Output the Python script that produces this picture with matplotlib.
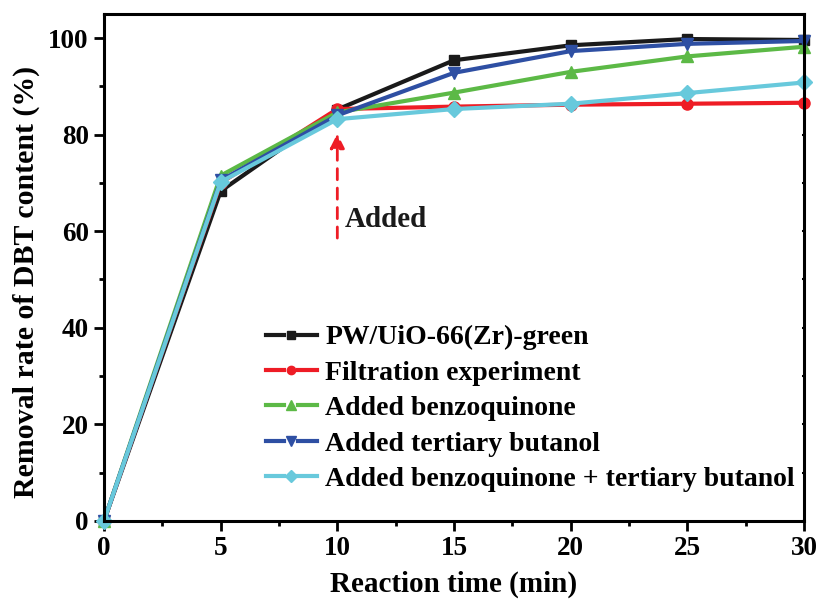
import matplotlib.pyplot as plt
from matplotlib.ticker import MultipleLocator
from matplotlib.legend_handler import HandlerLine2D
from matplotlib.lines import Line2D

plt.rcParams['font.family'] = ['Liberation Serif', 'DejaVu Serif']
plt.rcParams['font.weight'] = 'bold'

time_min = [0, 5, 10, 15, 20, 25, 30]

pw_green = [0, 68.3, 85.2, 95.4, 98.5, 99.8, 99.6]
filtration = [0, 70.0, 85.3, 85.8, 86.2, 86.4, 86.6]
benzoquinone = [0, 71.5, 84.6, 88.7, 93.0, 96.2, 98.2]
tert_butanol = [0, 70.5, 84.0, 92.8, 97.3, 98.8, 99.4]
bq_tba = [0, 70.2, 83.2, 85.3, 86.4, 88.6, 90.8]

labels = ['PW/UiO-66(Zr)-green', 'Filtration experiment', 'Added benzoquinone',
          'Added tertiary butanol', 'Added benzoquinone + tertiary butanol']
colors = ['#1a1a1a', '#ee1c25', '#5cb946', '#2e4fa3', '#68c9dc']
markers = ['s', 'o', '^', 'v', 'D']
sizes = [7, 8, 9, 9, 8]


class GapHandler(HandlerLine2D):
    """Origin style legend entry: line - marker - line, with small gaps"""

    def create_artists(self, legend, orig_handle, xdescent, ydescent,
                       width, height, fontsize, trans):
        y = height / 2 - ydescent
        x0 = -xdescent
        gap = width * 0.36
        left = Line2D([x0, x0 + gap], [y, y])
        right = Line2D([x0 + width - gap, x0 + width], [y, y])
        for ln in (left, right):
            ln.set_color(orig_handle.get_color())
            ln.set_linewidth(orig_handle.get_linewidth())
            ln.set_transform(trans)
        mk = Line2D([x0 + width / 2], [y], linestyle='none',
                    marker=orig_handle.get_marker(),
                    markersize=orig_handle.get_markersize() * 0.75,
                    color=orig_handle.get_color())
        mk.set_transform(trans)
        return [left, right, mk]


fig = plt.figure(figsize=(8.22, 6.05), dpi=100)
ax = fig.add_axes([0.1265, 0.139, 0.8516, 0.838])

series = [pw_green, filtration, benzoquinone, tert_butanol, bq_tba]
handles = []
for ys, lab, c, m, s in zip(series, labels, colors, markers, sizes):
    ln, = ax.plot(time_min, ys, color=c, marker=m, markersize=s, lw=3,
                  label=lab, clip_on=False)
    handles.append(ln)

# arrow showing when scavengers were added
ax.annotate('', xy=(10, 80.8), xytext=(10, 58),
            arrowprops=dict(arrowstyle='-|>', color='#ee1c25', lw=2,
                            linestyle=(0, (4, 3)), mutation_scale=22))
ax.text(10.3, 62.4, 'Added', fontsize=21, fontweight='bold', va='center',
        color='#1a1a1a')

ax.set_xlim(0, 30)
ax.set_ylim(0, 105)
ax.xaxis.set_major_locator(MultipleLocator(5))
ax.xaxis.set_minor_locator(MultipleLocator(2.5))
ax.yaxis.set_major_locator(MultipleLocator(20))
ax.yaxis.set_minor_locator(MultipleLocator(10))
ax.tick_params(which='major', direction='out', length=7, width=2, labelsize=19.5,
               pad=4)
ax.tick_params(which='minor', direction='out', length=3.5, width=2)
for sp in ax.spines.values():
    sp.set_linewidth(2.2)

sec_x = ax.secondary_xaxis('top')
sec_x.xaxis.set_major_locator(MultipleLocator(5))
sec_x.xaxis.set_minor_locator(MultipleLocator(2.5))
sec_x.tick_params(which='both', direction='in', labeltop=False, width=1.5,
                  length=1.5)
sec_y = ax.secondary_yaxis('right')
sec_y.yaxis.set_major_locator(MultipleLocator(20))
sec_y.yaxis.set_minor_locator(MultipleLocator(10))
sec_y.tick_params(which='both', direction='in', labelright=False, width=1.5,
                  length=1.5)

ax.set_xlabel('Reaction time (min)', fontsize=21, fontweight='bold', labelpad=7)
ax.set_ylabel('Removal rate of DBT content (%)', fontsize=21.5,
              fontweight='bold')
ax.yaxis.set_label_coords(-0.0914, 0.471)

ax.legend(handles=handles, loc='lower left', bbox_to_anchor=(0.215, 0.035),
          frameon=False, fontsize=20, handlelength=1.85, handletextpad=0.3,
          labelspacing=0.36, borderaxespad=0,
          handler_map={Line2D: GapHandler()})

fig.savefig('out.png', dpi=100)
